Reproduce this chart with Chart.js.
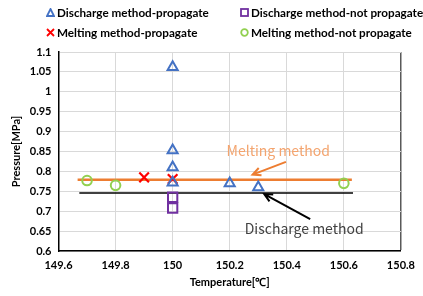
<!DOCTYPE html>
<html>
<head>
<meta charset="utf-8">
<script src="https://cdn.jsdelivr.net/npm/chart.js@4.4.1/dist/chart.umd.min.js"></script>
<style>
  html, body { margin: 0; padding: 0; background: #fff; }
  #wrap { position: relative; width: 423px; height: 296px; }
  #legend { position: absolute; left: 0; top: 0; width: 423px; font: bold 11.7px Lato, sans-serif; color: #000; }
  .item { position: absolute; white-space: nowrap; line-height: 14px; }
  .item svg { position: absolute; left: -11px; top: 3px; }
</style>
</head>
<body>
<div id="wrap">
  <canvas id="chart" width="423" height="296"></canvas>
  <div id="legend"></div>
</div>
<script>
// Data
const dischargePropT = [150, 150, 150, 150, 150.2, 150.3];
const dischargePropP = [1.062, 0.853, 0.81, 0.772, 0.77, 0.76];
const dischargeNotT = [150, 150];
const dischargeNotP = [0.735, 0.708];
const meltingPropT = [149.9, 150];
const meltingPropP = [0.785, 0.781];
const meltingNotT = [149.7, 149.8, 150.6];
const meltingNotP = [0.777, 0.765, 0.77];

// reference lines (average pressure of each method)
const meltingLineT = [149.667, 150.628];
const meltingLineP = [0.779, 0.779];
const dischargeLineT = [149.673, 150.632];
const dischargeLineP = [0.746, 0.746];

const xTicks = [149.6, 149.8, 150, 150.2, 150.4, 150.6, 150.8];

const seriesNames = [
    'Discharge method-propagate',
    'Discharge method-not propagate',
    'Melting method-propagate',
    'Melting method-not propagate'
];

const toPoints = (xs, ys) => xs.map((x, i) => ({ x: x, y: ys[i] }));
const fmt = v => String(Number(v.toFixed(2)));

// arrows + labels for the two reference lines
const notesPlugin = {
    id: 'notes',
    afterDatasetsDraw(chart) {
        const { ctx, scales: { x, y } } = chart;
        const notes = [
            { text: 'Melting method', tx: 150.37, ty: 0.851, color: '#ED7D31', textColor: '#F4A46E', from: [150.397, 0.824], to: [150.28, 0.792] },
            { text: 'Discharge method', tx: 150.461, ty: 0.656, color: '#000000', textColor: '#404040', from: [150.482, 0.68], to: [150.321, 0.743] }
        ];
        ctx.save();
        notes.forEach(n => {
            ctx.font = '14px "Noto Sans CJK JP", sans-serif';
            ctx.fillStyle = n.textColor;
            ctx.textAlign = 'center';
            ctx.textBaseline = 'middle';
            ctx.fillText(n.text, x.getPixelForValue(n.tx), y.getPixelForValue(n.ty));

            const x1 = x.getPixelForValue(n.from[0]), y1 = y.getPixelForValue(n.from[1]);
            const x2 = x.getPixelForValue(n.to[0]), y2 = y.getPixelForValue(n.to[1]);
            const a = Math.atan2(y2 - y1, x2 - x1);
            ctx.strokeStyle = n.color;
            ctx.lineWidth = 2;
            ctx.beginPath();
            ctx.moveTo(x1, y1);
            ctx.lineTo(x2, y2);
            ctx.moveTo(x2 - 9 * Math.cos(a - 0.45), y2 - 9 * Math.sin(a - 0.45));
            ctx.lineTo(x2, y2);
            ctx.lineTo(x2 - 9 * Math.cos(a + 0.45), y2 - 9 * Math.sin(a + 0.45));
            ctx.stroke();
        });
        ctx.restore();
    }
};

const tickFont = { family: 'Lato, sans-serif', size: 11, weight: 'bold' };

const chart = new Chart(document.getElementById('chart'), {
    type: 'scatter',
    data: {
        datasets: [
            { label: seriesNames[0], data: toPoints(dischargePropT, dischargePropP), pointStyle: 'triangle', radius: 5.8, borderColor: '#4472C4', backgroundColor: 'rgba(0,0,0,0)', borderWidth: 2 },
            { label: seriesNames[1], data: toPoints(dischargeNotT, dischargeNotP), pointStyle: 'rect', radius: 6.6, borderColor: '#7030A0', backgroundColor: 'rgba(0,0,0,0)', borderWidth: 2 },
            { label: seriesNames[2], data: toPoints(meltingPropT, meltingPropP), pointStyle: 'crossRot', radius: 6.8, borderColor: '#FF0000', backgroundColor: '#FF0000', borderWidth: 2.2 },
            { label: seriesNames[3], data: toPoints(meltingNotT, meltingNotP), pointStyle: 'circle', radius: 4.8, borderColor: '#92D050', backgroundColor: 'rgba(0,0,0,0)', borderWidth: 2 },
            { label: 'melting line', type: 'line', data: toPoints(meltingLineT, meltingLineP), borderColor: '#ED7D31', borderWidth: 2.5, pointRadius: 0, fill: false },
            { label: 'discharge line', type: 'line', data: toPoints(dischargeLineT, dischargeLineP), borderColor: '#000000', borderWidth: 1.5, pointRadius: 0, fill: false }
        ]
    },
    options: {
        responsive: false,
        animation: false,
        layout: { padding: { top: 52, right: 21, left: 10, bottom: 7 } },
        plugins: { legend: { display: false }, tooltip: { enabled: false } },
        scales: {
            x: {
                type: 'linear',
                min: 149.6, max: 150.8,
                afterBuildTicks: s => { s.ticks = xTicks.map(v => ({ value: v })); },
                afterFit: s => { s.height = 38; },
                ticks: { color: '#000', font: tickFont, padding: 8, maxRotation: 0, callback: v => fmt(v) },
                grid: { color: ctx => (ctx.tick && ctx.tick.value === 150.8 ? '#595959' : '#D9D9D9'), lineWidth: ctx => (ctx.tick && ctx.tick.value === 150.8 ? 1.5 : 1), drawTicks: false },
                border: { color: '#000', width: 1.5 },
                title: { display: true, text: 'Temperature[℃]', color: '#000', font: tickFont, padding: { top: 0, bottom: 0 } }
            },
            y: {
                min: 0.6, max: 1.1,
                afterFit: s => { s.width = 48.5; },
                ticks: { stepSize: 0.05, color: '#000', font: tickFont, padding: 7, callback: v => fmt(v) },
                grid: { color: '#D9D9D9', drawTicks: false },
                border: { color: '#000', width: 1.5 },
                title: { display: true, text: 'Pressure[MPa]', color: '#000', font: tickFont, padding: { top: 0, bottom: 0 } }
            }
        }
    },
    plugins: [notesPlugin]
});

// two-column legend above the plot
const legendPos = [[57, 5], [251, 5], [57, 25], [251, 25]];
const legendIcons = [
    '<svg width="9" height="9"><polygon points="4.5,1 8,8 1,8" fill="none" stroke="#4472C4" stroke-width="1.8"/></svg>',
    '<svg width="9" height="9"><rect x="1" y="1" width="7" height="7" fill="none" stroke="#7030A0" stroke-width="1.8"/></svg>',
    '<svg width="9" height="9"><path d="M1,1 L8,8 M8,1 L1,8" stroke="#FF0000" stroke-width="1.8"/></svg>',
    '<svg width="9" height="9"><circle cx="4.5" cy="4.5" r="3.3" fill="none" stroke="#92D050" stroke-width="1.8"/></svg>'
];
const legend = document.getElementById('legend');
seriesNames.forEach((name, i) => {
    const div = document.createElement('div');
    div.className = 'item';
    div.style.left = legendPos[i][0] + 'px';
    div.style.top = legendPos[i][1] + 'px';
    div.innerHTML = legendIcons[i] + name;
    legend.appendChild(div);
});
</script>
</body>
</html>
